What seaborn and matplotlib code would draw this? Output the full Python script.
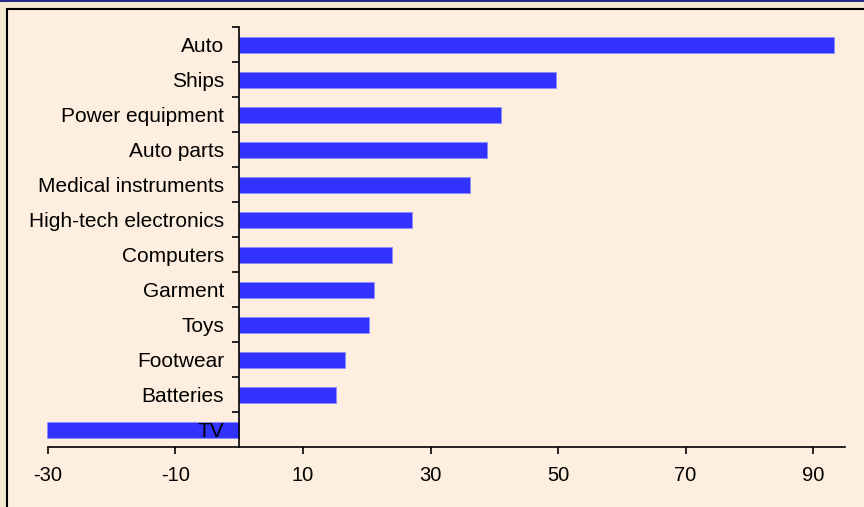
import matplotlib.pyplot as plt
import matplotlib.patches as mpatches
import seaborn as sns
import pandas as pd

# data
categories = ['Auto', 'Ships', 'Power equipment', 'Auto parts', 'Medical instruments',
              'High-tech electronics', 'Computers', 'Garment', 'Toys', 'Footwear',
              'Batteries', 'TV']
values = [93.3, 49.7, 41.1, 38.9, 36.2, 27.1, 23.9, 21.1, 20.3, 16.6, 15.2, -30.2]
xticks = [-30, -10, 10, 30, 50, 70, 90]

df = pd.DataFrame({'category': categories, 'value': values})

sns.set_style('white')
plt.rcParams['font.family'] = ['Liberation Sans', 'DejaVu Sans']

bg = '#FEEEDF'
fig = plt.figure(figsize=(8.64, 5.07), dpi=100, facecolor='#F3E9D2')

# panel frame (drawn beneath the axes)
frame = mpatches.Rectangle((7 / 864, -0.1), 1.1, (507 - 9) / 507 + 0.1,
                           transform=fig.transFigure, facecolor=bg,
                           edgecolor='black', linewidth=1.5, zorder=-10)
fig.add_artist(frame)
fig.add_artist(plt.Line2D([0, 1], [0.999, 0.999], color='#000080', lw=1.2,
                          transform=fig.transFigure, zorder=-9))

ax = fig.add_axes([0.054, 0.1174, 0.924, 0.8284])
ax.patch.set_alpha(0)

sns.barplot(data=df, x='value', y='category', orient='h', color='#3333FF',
            saturation=1, width=0.46, edgecolor='#8C8CFF', linewidth=0.6, ax=ax)
ax.set_axisbelow(False)  # keep the TV label on top of its bar

ax.set_xlim(-30.2, 95)
ax.set_ylim(11.5, -0.5)
ax.set_xlabel('')
ax.set_ylabel('')

ax.spines['top'].set_visible(False)
ax.spines['right'].set_visible(False)
ax.spines['left'].set_position(('data', 0))
ax.spines['bottom'].set_bounds(-30, 95)
for s in ['left', 'bottom']:
    ax.spines[s].set_linewidth(1.2)
    ax.spines[s].set_color('black')

ax.set_xticks(xticks)
ax.set_xticklabels([str(t) for t in xticks], fontsize=14.5)
ax.tick_params(axis='x', bottom=True, direction='out', length=5, width=1.2,
               pad=8, colors='black')

# category labels centred, ticks between categories
ax.set_yticks(range(len(categories)))
ax.set_yticklabels(categories, fontsize=15)
ax.tick_params(axis='y', which='major', left=True, length=0, pad=11, colors='black')
ax.set_yticks([i - 0.5 for i in range(len(categories))], minor=True)
ax.tick_params(axis='y', which='minor', left=True, direction='out', length=5,
               width=1.2, color='black')

fig.savefig('out.png', dpi=100, facecolor=fig.get_facecolor())
